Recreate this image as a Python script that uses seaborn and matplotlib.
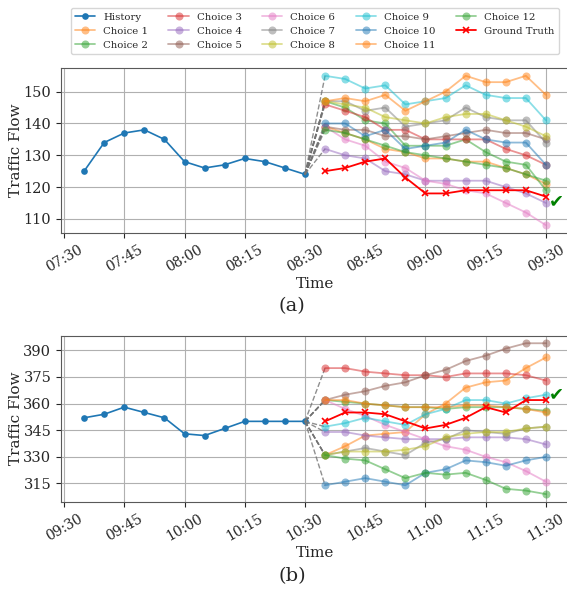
import numpy as np
import pandas as pd
import seaborn as sns
import matplotlib.pyplot as plt
import matplotlib.dates as mdates
from matplotlib.ticker import MultipleLocator

sns.set_style("ticks")
plt.rcParams['font.family'] = 'DejaVu Serif'

# ---- panel (a) ----
hist_times_a = pd.date_range("2024-01-01 07:35", periods=12, freq="5min")
pred_times_a = pd.date_range("2024-01-01 08:35", periods=12, freq="5min")
history_a = [125, 134, 137, 138, 135, 128, 126, 127, 129, 128, 126, 124]
choices_a = {
    "Choice 1": [139, 137, 135, 132, 131, 129, 129, 128, 128, 126, 124, 121],
    "Choice 2": [147, 145, 141, 140, 133, 133, 133, 135, 131, 128, 127, 119],
    "Choice 3": [146, 144, 142, 138, 138, 135, 135, 135, 135, 132, 130, 127],
    "Choice 4": [132, 130, 129, 125, 124, 122, 122, 122, 122, 120, 118, 115],
    "Choice 5": [139, 138, 138, 136, 136, 135, 136, 137, 138, 137, 137, 135],
    "Choice 6": [139, 135, 133, 128, 126, 122, 121, 119, 118, 115, 112, 108],
    "Choice 7": [147, 147, 144, 145, 139, 140, 141, 145, 142, 141, 141, 134],
    "Choice 8": [147, 146, 145, 142, 141, 140, 142, 143, 143, 141, 139, 136],
    "Choice 9": [155, 154, 151, 152, 146, 147, 148, 152, 149, 148, 148, 141],
    "Choice 10": [140, 140, 136, 138, 132, 133, 134, 138, 135, 134, 134, 127],
    "Choice 11": [147, 148, 147, 149, 144, 147, 150, 155, 153, 153, 155, 149],
    "Choice 12": [138, 137, 135, 133, 131, 130, 129, 128, 127, 126, 124, 122],
}
truth_a = [125, 126, 128, 129, 123, 118, 118, 119, 119, 119, 119, 117]

# ---- panel (b) ----
hist_times_b = pd.date_range("2024-01-01 09:35", periods=12, freq="5min")
pred_times_b = pd.date_range("2024-01-01 10:35", periods=12, freq="5min")
history_b = [352, 354, 358, 355, 352, 343, 342, 346, 350, 350, 350, 350]
choices_b = {
    "Choice 1": [331, 336, 342, 343, 344, 354, 360, 369, 372, 373, 380, 386],
    "Choice 2": [362, 361, 360, 359, 358, 358, 357, 358, 358, 358, 357, 356],
    "Choice 3": [380, 380, 378, 377, 376, 376, 375, 377, 377, 377, 376, 373],
    "Choice 4": [344, 344, 342, 341, 340, 340, 340, 341, 341, 341, 340, 337],
    "Choice 5": [362, 365, 367, 370, 372, 376, 379, 384, 387, 391, 394, 394],
    "Choice 6": [362, 357, 353, 348, 344, 340, 336, 334, 330, 327, 322, 316],
    "Choice 7": [331, 333, 335, 333, 331, 338, 340, 345, 344, 343, 346, 347],
    "Choice 8": [331, 333, 333, 333, 334, 336, 341, 343, 344, 344, 346, 347],
    "Choice 9": [347, 349, 352, 350, 348, 354, 357, 362, 362, 360, 363, 365],
    "Choice 10": [314, 316, 318, 316, 314, 321, 323, 328, 327, 325, 328, 330],
    "Choice 11": [362, 362, 360, 359, 358, 358, 358, 359, 359, 358, 357, 355],
    "Choice 12": [331, 329, 328, 323, 318, 321, 320, 321, 317, 312, 311, 309],
}
truth_b = [350, 355, 355, 354, 350, 346, 348, 352, 358, 355, 362, 362]

palette = sns.color_palette("tab10")


def draw_panel(ax, hist_times, history, pred_times, choices, truth, check_y, ystep):
    sns.lineplot(x=hist_times, y=history, ax=ax, color=palette[0], marker="o",
                 markersize=4.8, mec=palette[0], mew=0, lw=1.2, label="History")
    # dashed links from last observation to each choice
    for name, vals in choices.items():
        sns.lineplot(x=[hist_times[-1], pred_times[0]], y=[history[-1], vals[0]],
                     ax=ax, color="0.45", linestyle="--", lw=1.0, alpha=0.8)
    for i, (name, vals) in enumerate(choices.items()):
        c = palette[(i + 1) % 10]
        sns.lineplot(x=pred_times, y=vals, ax=ax, color=c, marker="o",
                     markersize=5.8, mec=c, mew=0, lw=1.3, alpha=0.5, label=name)
    sns.lineplot(x=pred_times, y=truth, ax=ax, color="red", marker="x",
                 markersize=5, mec="red", mew=1.2, lw=1.3, label="Ground Truth")
    if ax.get_legend() is not None:
        ax.get_legend().remove()

    ax.xaxis.set_major_locator(mdates.MinuteLocator(byminute=[0, 15, 30, 45]))
    ax.xaxis.set_major_formatter(mdates.DateFormatter("%H:%M"))
    ax.yaxis.set_major_locator(MultipleLocator(ystep))
    ax.tick_params(axis="x", rotation=30, labelsize=10)
    ax.tick_params(axis="y", labelsize=10.5)
    ax.grid(True, color="#b0b0b0", lw=0.8)
    for s in ax.spines.values():
        s.set_color("0.35")
    ax.set_xlabel("Time", fontsize=11, labelpad=2)
    ax.set_ylabel("Traffic Flow", fontsize=11, labelpad=0)
    xc = mdates.date2num(pred_times[-1] + pd.Timedelta(minutes=2.7))
    ax.text(xc, check_y, "\u2714", color="green", fontsize=13,
            family="DejaVu Sans", ha="center", va="center")


fig = plt.figure(figsize=(5.67, 5.9), dpi=100)
ax1 = fig.add_axes([0.1076, 0.6056, 0.896, 0.2786])
ax2 = fig.add_axes([0.1076, 0.1497, 0.896, 0.2813])

draw_panel(ax1, hist_times_a, history_a, pred_times_a, choices_a, truth_a, 115.5, 10)
draw_panel(ax2, hist_times_b, history_b, pred_times_b, choices_b, truth_b, 365.3, 15)

handles, labels = ax1.get_legend_handles_labels()
fig.legend(handles, labels, loc="lower center", bbox_to_anchor=(0.555, 0.900),
           ncol=5, fontsize=7.3)

fig.text(0.515, 0.481, "(a)", ha="center", va="center", fontsize=14)
fig.text(0.515, 0.024, "(b)", ha="center", va="center", fontsize=14)

fig.savefig("out.png", dpi=100)
